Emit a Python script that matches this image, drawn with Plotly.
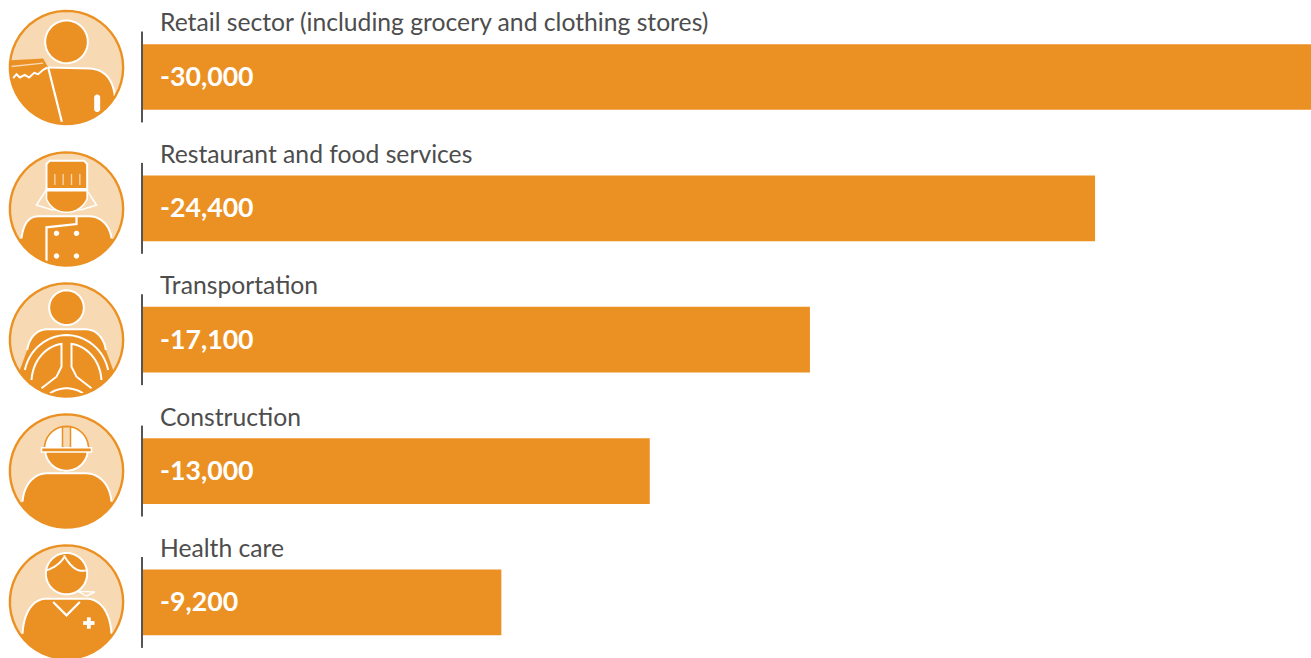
import numpy as np
import plotly.graph_objects as go

categories = ["Retail sector (including grocery and clothing stores)", "Restaurant and food services",
              "Transportation", "Construction", "Health care"]
values = [-30000, -24400, -17100, -13000, -9200]
value_labels = ["-30,000", "-24,400", "-17,100", "-13,000", "-9,200"]

W, H = 1311, 658
ORANGE = "#EB9123"
LIGHT = "#F7D9B3"
WHITE = "#FFFFFF"
TEXT = "#4D4D4D"
FONT = "Lato"

fig = go.Figure(go.Bar(y=categories, x=values, orientation="h", width=0.5,
                       marker=dict(color=ORANGE, line_width=0), hoverinfo="skip"))

# icon helpers: geometry is decoration, written in a 3x local frame around each icon centre
R = 170


def to_paper(pts, c):
    return [((c[0] + x / 3) / W, 1 - (c[1] + y / 3) / H) for x, y in pts]


def path(pts, c, close=False):
    p = to_paper(pts, c)
    return "M" + " L".join(f"{x:.5f},{y:.5f}" for x, y in p) + (" Z" if close else "")


def bez(p0, p1, p2, p3, n=16):
    t = np.linspace(0, 1, n)[:, None]
    a = [np.array(v, float) for v in (p0, p1, p2, p3)]
    return [tuple(v) for v in (1-t)**3*a[0] + 3*(1-t)**2*t*a[1] + 3*(1-t)*t**2*a[2] + t**3*a[3]]


def circ(cx, cy, r, a0=0, a1=2*np.pi, n=48):
    return [(cx + r*np.cos(a), cy + r*np.sin(a)) for a in np.linspace(a0, a1, n)]


def add(pts, c, fill=None, line=None, lw=2.0, close=None):
    close = fill is not None if close is None else close
    fig.add_shape(type="path", path=path(pts, c, close), xref="paper", yref="paper",
                  fillcolor=fill if fill else "rgba(0,0,0,0)",
                  line=dict(color=line if line else "rgba(0,0,0,0)", width=lw if line else 0),
                  layer="above")


def body(top, c, outline=True):
    xr, yr = top[-1]
    xl, yl = top[0]
    a0 = np.arctan2(yr, xr)
    a1 = np.arctan2(yl, xl)
    if a1 < a0:
        a1 += 2*np.pi
    add(list(top) + circ(0, 0, R, a0, a1), c, fill=ORANGE)
    if outline:
        add(top, c, line=WHITE, close=False)


def disc(c):
    add(circ(0, 0, R), c, fill=LIGHT)


def ring(c):
    add(circ(0, 0, R), c, line=ORANGE, lw=2.4, close=True)


def pill(x, y0, y1, r, c):
    add(circ(x, y0, r, np.pi, 2*np.pi, 10) + circ(x, y1, r, 0, np.pi, 10), c, fill=WHITE)


def shoulders(xl, yb, xr, ytop, xi0, xi1):
    return (bez((xl, yb), (xl + 5, ytop + 25), (xi0 - 30, ytop), (xi0, ytop))
            + bez((xi1, ytop), (xi1 + 30, ytop), (xr - 5, ytop + 25), (xr, yb)))


def icon_retail(c):
    disc(c)
    curve = bez((70, 3), (110, 5), (138, 30), (145, 85))
    body([(-166, -22), (-70, -27), (-55, 0)] + curve, c, outline=False)
    add([(-55, 0)] + curve, c, line=WHITE, close=False)
    add(circ(0, -77, 64), c, fill=ORANGE, line=WHITE)
    add([(-165, -3), (-70, -13)], c, line=LIGHT, lw=1.4, close=False)
    add([(-160, 32), (-150, 20), (-140, 30), (-125, 22), (-112, 30), (-97, 16), (-85, 20), (-70, 7), (-57, 0)], c, line=WHITE, close=False)
    add([(-55, 0), (-14, 163)], c, line=WHITE, lw=2.2, close=False)
    pill(92, 90, 125, 9, c)
    ring(c)


def icon_chef(c):
    disc(c)
    body(shoulders(-135, 88, 135, 22, -85, 70), c)
    add([(-90, -12), (-62, -55), (-40, -50), (-55, -25), (-25, 0), (25, 0), (55, -25), (62, -55), (90, -12), (45, 2), (-45, 2)], c, fill=LIGHT, line=WHITE, lw=1.6)
    add(bez((-60, -30), (-45, 5), (-15, 10), (0, 10)) + bez((0, 10), (15, 10), (45, 5), (62, -30)) + [(62, -55), (-60, -55)], c, fill=ORANGE, line=WHITE, lw=1.6)
    add([(-50, -145), (52, -145), (62, -135), (62, -60), (-60, -60), (-60, -135)], c, fill=ORANGE, line=WHITE)
    for x in (-35, -10, 15, 40):
        add([(x, -105), (x, -72)], c, line=LIGHT, lw=1.3, close=False)
    add([(-60, 163), (-60, 55), (30, 45), (30, 22)], c, line=WHITE, lw=2.2, close=False)
    for x, y in [(-30, 73), (30, 73), (-30, 141), (30, 141)]:
        add(circ(x, y, 8, n=16), c, fill=WHITE)
    ring(c)


def icon_driver(c):
    disc(c)
    arm_l = bez((-118, 30), (-112, -10), (-85, -32), (-60, -32))
    arm_r = bez((60, -32), (85, -32), (112, -10), (118, 30))
    body([(-140, 90)] + arm_l + arm_r + [(140, 90)], c, outline=False)
    add(arm_l + arm_r, c, line=WHITE, close=False)
    add(circ(0, -97, 52), c, fill=ORANGE, line=WHITE)
    add(bez((-125, 90), (-110, 20), (-50, -15), (0, -15)) + bez((0, -15), (50, -15), (110, 20), (125, 90)), c, line=WHITE, close=False)
    add(bez((-105, 120), (-100, 50), (-50, 15), (-15, 12)) + [(-15, 80), (-30, 110), (-75, 145)], c, line=WHITE, close=False)
    add(bez((105, 120), (100, 50), (50, 15), (15, 12)) + [(15, 80), (30, 110), (75, 145)], c, line=WHITE, close=False)
    add(bez((-50, 160), (-20, 140), (20, 140), (50, 160)), c, line=WHITE, close=False)
    ring(c)


def icon_hardhat(c):
    disc(c)
    body(shoulders(-132, 92, 135, 7, -60, 60), c)
    add(circ(0, -65, 64, 0, np.pi), c, fill=ORANGE, line=WHITE)
    add(circ(0, -68, 66, np.pi, 2*np.pi), c, fill=WHITE, line=ORANGE, lw=1.6)
    add([(-12, -133), (12, -133), (12, -70), (-12, -70)], c, fill=LIGHT, line=ORANGE, lw=1.5)
    add([(-75, -70), (75, -70), (75, -57), (-75, -57)], c, fill=ORANGE, line=WHITE, lw=1.5)
    ring(c)


def icon_nurse(c):
    disc(c)
    body(shoulders(-132, 95, 135, -10, -60, 60), c)
    add([(-40, 0), (0, 40), (40, 0)], c, line=WHITE, lw=2.2, close=False)
    add([(67, 46), (67, 80)], c, line=WHITE, lw=3.8, close=False)
    add([(50, 63), (84, 63)], c, line=WHITE, lw=3.8, close=False)
    add(circ(0, -85, 62), c, fill=ORANGE, line=WHITE)
    add(bez((-60, -95), (-30, -105), (-10, -125), (-5, -140)), c, line=WHITE, close=False)
    add(bez((-5, -135), (20, -95), (40, -90), (60, -95)), c, line=WHITE, close=False)
    add([(35, -32), (85, -30), (60, -18)], c, fill=LIGHT, line=WHITE, lw=1.4)
    ring(c)


centres = [(66.5, 67.5), (66.5, 209), (66.5, 340), (66.5, 471), (66.5, 602)]
for fn, c in zip([icon_retail, icon_chef, icon_driver, icon_hardhat, icon_nurse], centres):
    fn(c)

# axis ticks and labels
for i, (cat, lab) in enumerate(zip(categories, value_labels)):
    fig.add_shape(type="line", xref="x", yref="y", x0=0, x1=0, y0=i - 0.346, y1=i + 0.346,
                  line=dict(color="#555555", width=2), layer="above")
    fig.add_annotation(xref="x", yref="y", x=0, y=cat, xanchor="left", yanchor="middle", xshift=16, yshift=55,
                       text=cat, showarrow=False, font=dict(family=FONT, size=24.7, color=TEXT))
    fig.add_annotation(xref="x", yref="y", x=0, y=cat, xanchor="left", yanchor="middle", xshift=16, yshift=1,
                       text=f"<b>{lab}</b>", showarrow=False, font=dict(family=FONT, size=26.7, color=WHITE))

fig.update_layout(
    width=W, height=H, margin=dict(l=0, r=0, t=0, b=0, pad=0),
    paper_bgcolor="white", plot_bgcolor="white", showlegend=False,
    xaxis=dict(range=[3635, -29928], visible=False, fixedrange=True),
    yaxis=dict(type="category", categoryorder="array", categoryarray=categories,
               range=[4.423, -0.586], visible=False, fixedrange=True),
)
fig.write_html("out.html", post_script="document.body.style.margin='0';", config={"displayModeBar": False})
